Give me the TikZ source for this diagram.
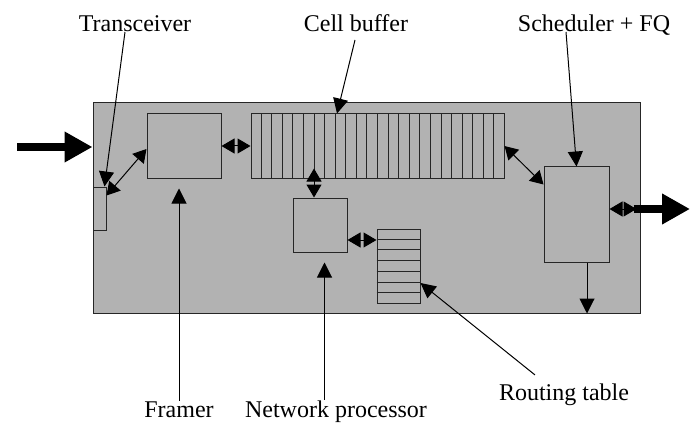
\documentclass[tikz,border=0pt]{standalone}
\usepackage{fontspec}
\setmainfont{Liberation Serif}
\usetikzlibrary{arrows.meta,calc}

\tikzset{
  blk/.style={draw=black!85,fill=black!30,line width=0.5pt,inner sep=0pt},
  lbl/.style={inner sep=0pt,font=\fontsize{12}{14}\selectfont},
  ptr/.style={-{Triangle[length=7.5pt,width=7.5pt]},line width=0.5pt},
  dbl/.style={{Triangle[length=6.5pt,width=7.5pt]}-{Triangle[length=6.5pt,width=7.5pt]},line width=0.5pt},
  fat/.style={-{Triangle[length=14pt,width=14.5pt]},line width=4pt}
}

\begin{document}
\begin{tikzpicture}[x=0.5pt,y=-0.5pt]
  \useasboundingbox (0,0) rectangle (694,422);
  \node[blk,minimum width=273.5pt,minimum height=105pt] (board) at (366.5,208) {};
  \node[blk,minimum width=6.5pt,minimum height=21.5pt] (xcvr) at (99.5,208.5) {};
  \node[blk,minimum width=37pt,minimum height=32pt] (framer) at (184,146) {};
  \node[blk,minimum width=126.5pt,minimum height=32pt] (cbuf) at (377.5,146) {};
  \node[blk,minimum width=27pt,minimum height=27pt] (npu) at (320,225) {};
  \node[blk,minimum width=21.5pt,minimum height=37pt] (rtab) at (398.5,266) {};
  \node[blk,minimum width=32.5pt,minimum height=47.5pt] (sched) at (576.5,214.5) {};
  \foreach \i in {1,...,23}
    \draw[black!85,line width=0.5pt] ($(cbuf.north west)!\i/24!(cbuf.north east)$) -- ($(cbuf.south west)!\i/24!(cbuf.south east)$);
  \foreach \i in {1,...,6}
    \draw[black!85,line width=0.5pt] ($(rtab.north west)!\i/7!(rtab.south west)$) -- ($(rtab.north east)!\i/7!(rtab.south east)$);

  \node[lbl,anchor=base] (lxcvr) at (135,32) {Transceiver};
  \node[lbl,anchor=base] (lcbuf) at (356,32) {Cell buffer};
  \node[lbl,anchor=base] (lsched) at (594,32) {Scheduler + FQ};
  \node[lbl,anchor=base] (lframer) at (179,417) {Framer};
  \node[lbl,anchor=base] (lnpu) at (336,417) {Network processor};
  \node[lbl,anchor=base] (lrtab) at (564,400) {Routing table};

  \coordinate (inL) at (17,147);
  \coordinate (outR) at (690,209);
  \coordinate (npT) at ([xshift=-3pt]npu.north);
  \coordinate (cbS) at ([yshift=5pt]cbuf.south);
  \coordinate (npE) at ([yshift=-7.5pt]npu.east);
  \coordinate (scE) at ([yshift=2.75pt]sched.east);
  \coordinate (scO) at ([xshift=-2pt]board.east |- scE);
  \coordinate (scF) at ([xshift=-3.5pt]board.east |- scE);
  \coordinate (scB) at ([xshift=5.25pt]sched.south);
  \coordinate (frT) at ([yshift=-5pt]framer.south);
  \coordinate (npB) at ([yshift=-5pt]npu.south);
  \coordinate (lnpT) at ([xshift=-5.75pt]lnpu.north);

  \draw[fat] (inL) -- (inL -| board.west);
  \draw[dbl] ([yshift=-4.5pt]xcvr.north east) -- ([yshift=-1.5pt]framer.west);
  \draw[dbl] (framer.east) -- (cbuf.west);
  \draw[dbl] (npT) -- (npT |- cbS);
  \draw[dbl] (npE) -- (npE -| rtab.west);
  \draw[dbl] (cbuf.east) -- ([yshift=-9pt]sched.north west);
  \draw[dbl] (scE) -- (scO);
  \draw[fat] (scF) -- (outR);
  \draw[ptr] (scB) -- (scB |- board.south);

  \draw[ptr] ([xshift=-5pt]lxcvr.base) -- ([xshift=-1pt]xcvr.north east);
  \draw[ptr] ([xshift=-0.5pt,yshift=-4pt]lcbuf.base) -- ([xshift=-20.25pt]cbuf.north);
  \draw[ptr] ([xshift=-14pt]lsched.base) -- (sched.north);
  \draw[ptr] (lframer.north) -- (lframer.north |- frT);
  \draw[ptr] (lnpT) -- (lnpT |- npB);
  \draw[ptr] ([xshift=-14.5pt,yshift=4pt]lrtab.north) -- ([yshift=-8.5pt]rtab.east);
\end{tikzpicture}
\end{document}
